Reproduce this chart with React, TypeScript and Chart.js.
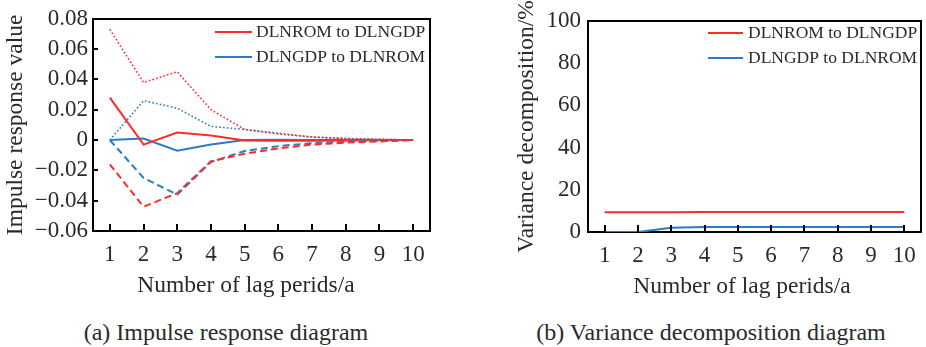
import React, { useEffect, useRef } from "react";
import { Chart, registerables } from "chart.js";

Chart.register(...registerables);

const lags = ["1", "2", "3", "4", "5", "6", "7", "8", "9", "10"];

// Impulse response (a)
const redMid = [0.028, -0.003, 0.005, 0.003, -0.0003, -0.0005, -0.0005, -0.0003, -0.0002, 0];
const redUpper = [0.073, 0.038, 0.045, 0.02, 0.007, 0.004, 0.002, 0.001, 0.0005, 0];
const redLower = [-0.016, -0.044, -0.035, -0.014, -0.009, -0.0055, -0.003, -0.0017, -0.0009, 0];
const blueMid = [0, 0.001, -0.007, -0.003, 0, 0.0002, 0.0001, 0, 0, 0];
const blueUpper = [0, 0.026, 0.021, 0.009, 0.007, 0.0045, 0.002, 0.001, 0.0005, 0];
const blueLower = [0, -0.025, -0.036, -0.0145, -0.0072, -0.004, -0.002, -0.001, -0.0005, 0];
const yTicksA = [-0.06, -0.04, -0.02, 0, 0.02, 0.04, 0.06, 0.08];

// Variance decomposition (b)
const vdRed = [9.3, 9.3, 9.4, 9.5, 9.5, 9.5, 9.5, 9.5, 9.5, 9.5];
const vdBlue = [0, 0, 2.0, 2.4, 2.4, 2.4, 2.4, 2.4, 2.4, 2.4];
const yTicksB = [0, 20, 40, 60, 80, 100];

const legendLabels = ["DLNROM to DLNGDP", "DLNGDP to DLNROM"];
const xTitle = "Number of lag perids/a";

const RED = "#ff2a2a";
const BLUE = "#2b7bc6";
const SERIF = "'Liberation Serif', 'DejaVu Serif', serif";
const TEXT = "#2a2a2a";
const FRAME = "#000000";

function fmtA(v: number) {
  if (Math.abs(v) < 1e-9) return "0";
  return (v < 0 ? "\u2212" : "") + Math.abs(v).toFixed(2);
}

type FrameOpts = {
  xTick: number;
  yTick: number;
  xTitleX: number;
  xTitleY: number;
  legend: { x: number; len: number; tx: number; y0: number; dy: number };
};

function makeOverlayPlugin(opts: FrameOpts) {
  return {
    id: "overlayMarks",
    afterDraw(chart: any) {
      const ctx = chart.ctx as CanvasRenderingContext2D;
      const area = chart.chartArea;
      const left = area.left, bottom = area.bottom;
      ctx.save();
      ctx.fillStyle = FRAME;
      const xs = chart.scales.x;
      for (let i = 0; i < lags.length; i++) {
        const px = Math.round(xs.getPixelForValue(i));
        ctx.fillRect(px - 1, bottom - opts.xTick, 2, opts.xTick);
      }
      if (opts.yTick > 0) {
        const ys = chart.scales.y;
        for (const t of ys.ticks) {
          const py = Math.round(ys.getPixelForValue(t.value));
          ctx.fillRect(left, py - 1, opts.yTick, 2);
        }
      }

      ctx.fillStyle = TEXT;
      ctx.font = `23.5px ${SERIF}`;
      ctx.textAlign = "center";
      ctx.textBaseline = "middle";
      ctx.fillText(xTitle, opts.xTitleX, opts.xTitleY);

      const lg = opts.legend;
      ctx.font = `17.5px ${SERIF}`;
      ctx.textAlign = "left";
      [RED, BLUE].forEach((c, i) => {
        const y = lg.y0 + i * lg.dy;
        ctx.fillStyle = c;
        ctx.fillRect(lg.x, y - 1, lg.len, 2);
        ctx.fillStyle = TEXT;
        ctx.fillText(legendLabels[i], lg.tx, y);
      });
      ctx.restore();
    },
  };
}

function line(data: number[], color: string, dash: number[], width = 2) {
  return {
    data,
    borderColor: color,
    backgroundColor: color,
    borderWidth: width,
    borderDash: dash,
    pointRadius: 0,
    tension: 0,
    fill: false,
  };
}

const frameBorder = { display: true, color: FRAME, width: 2 };

function edgeAxis(position: string) {
  return {
    position,
    display: true,
    grid: { display: false, drawTicks: false },
    border: frameBorder,
    ticks: { display: false },
    afterFit: (s: any) => {
      if (position === "top") s.height = 0;
      else s.width = 0;
    },
  };
}

export default function App() {
  const refA = useRef<HTMLCanvasElement>(null);
  const refB = useRef<HTMLCanvasElement>(null);

  useEffect(() => {
    const tickFont = { family: SERIF, size: 23 };
    const titleFont = { family: SERIF, size: 23.5 };

    const chartA = new Chart(refA.current!, {
      type: "line",
      data: {
        labels: lags,
        datasets: [
          line(redUpper, RED, [1.6, 2.2], 1.6),
          line(blueUpper, BLUE, [1.6, 2.2], 1.6),
          line(redLower, RED, [7, 4]),
          line(blueLower, BLUE, [7, 4]),
          line(redMid, RED, []),
          line(blueMid, BLUE, []),
        ],
      },
      options: {
        animation: false,
        responsive: false,
        layout: { autoPadding: false, padding: { left: 0, right: 33, top: 15, bottom: 0 } },
        plugins: { legend: { display: false }, tooltip: { enabled: false } },
        scales: {
          x: {
            type: "category",
            position: "bottom",
            offset: true,
            grid: { display: false, drawTicks: false },
            border: frameBorder,
            ticks: { font: tickFont, color: TEXT, padding: 10, maxRotation: 0, autoSkip: false },
            afterFit: (s: any) => { s.height = 69; },
          },
          x2: { type: "category", labels: lags, offset: true, ...edgeAxis("top") },
          y: {
            position: "left",
            min: -0.06,
            max: 0.08,
            grid: { display: false, drawTicks: false },
            border: frameBorder,
            afterBuildTicks: (s: any) => { s.ticks = yTicksA.map((v) => ({ value: v })); },
            ticks: { font: tickFont, color: TEXT, padding: 5, autoSkip: false, callback: (v: any) => fmtA(Number(v)) },
            title: { display: true, text: "Impulse response value", font: titleFont, color: TEXT, padding: { top: 2, bottom: 0 } },
            afterFit: (s: any) => { s.width = 93; },
          },
          y2: { type: "linear", min: -0.06, max: 0.08, ...edgeAxis("right") },
        },
      } as any,
      plugins: [makeOverlayPlugin({ xTick: 7, yTick: 5, xTitleX: 246, xTitleY: 286, legend: { x: 215, len: 37, tx: 256, y0: 32, dy: 25 } })],
    });

    const chartB = new Chart(refB.current!, {
      type: "line",
      data: {
        labels: lags,
        datasets: [line(vdRed, RED, []), line(vdBlue, BLUE, [])],
      },
      options: {
        animation: false,
        responsive: false,
        layout: { autoPadding: false, padding: { left: 0, right: 2, top: 16, bottom: 0 } },
        plugins: { legend: { display: false }, tooltip: { enabled: false } },
        scales: {
          x: {
            type: "category",
            position: "bottom",
            offset: true,
            grid: { display: false, drawTicks: false },
            border: frameBorder,
            ticks: { font: tickFont, color: TEXT, padding: 10, maxRotation: 0, autoSkip: false },
            afterFit: (s: any) => { s.height = 68; },
          },
          x2: { type: "category", labels: lags, offset: true, ...edgeAxis("top") },
          y: {
            position: "left",
            min: 0,
            max: 100,
            grid: { display: false, drawTicks: false },
            border: frameBorder,
            afterBuildTicks: (s: any) => { s.ticks = yTicksB.map((v) => ({ value: v })); },
            ticks: { font: tickFont, color: TEXT, padding: 7, autoSkip: false },
            title: { display: true, text: "Variance decomposition/%", font: titleFont, color: TEXT, padding: { top: 50, bottom: 0 } },
            afterFit: (s: any) => { s.width = 125; },
          },
          y2: { type: "linear", min: 0, max: 100, ...edgeAxis("right") },
        },
      } as any,
      plugins: [makeOverlayPlugin({ xTick: 7, yTick: 0, xTitleX: 742 - 463, xTitleY: 287, legend: { x: 245, len: 35, tx: 285, y0: 33, dy: 25 } })],
    });

    return () => {
      chartA.destroy();
      chartB.destroy();
    };
  }, []);

  const capStyle: React.CSSProperties = {
    position: "absolute",
    top: 320,
    width: 500,
    textAlign: "center",
    fontFamily: SERIF,
    fontSize: 24,
    lineHeight: "24px",
    color: TEXT,
    whiteSpace: "nowrap",
  };

  return (
    <div style={{ position: "absolute", left: 0, top: 0, width: 926, height: 347, background: "#fff", overflow: "hidden" }}>
      <canvas ref={refA} width={463} height={300} style={{ position: "absolute", left: 0, top: 0, width: 463, height: 300 }} />
      <canvas ref={refB} width={463} height={300} style={{ position: "absolute", left: 463, top: 0, width: 463, height: 300 }} />
      <div style={{ ...capStyle, left: 226 - 250 }}>(a) Impulse response diagram</div>
      <div style={{ ...capStyle, left: 711 - 250 }}>(b) Variance decomposition diagram</div>
    </div>
  );
}
